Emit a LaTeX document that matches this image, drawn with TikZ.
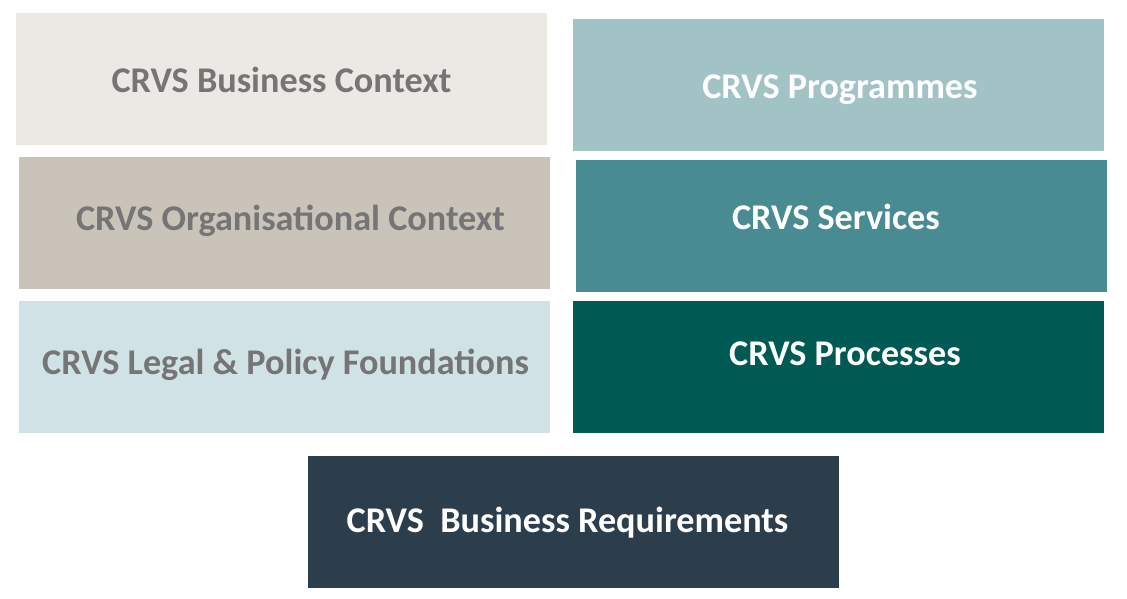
\documentclass[tikz,border=0pt]{standalone}
\usepackage{fontspec}
\setmainfont{Carlito}
\usepackage{tikz}

\definecolor{ctxfill}{HTML}{ECE9E4}
\definecolor{orgfill}{HTML}{CAC3B9}
\definecolor{legfill}{HTML}{D0E2E5}
\definecolor{progfill}{HTML}{A1C3C5}
\definecolor{servfill}{HTML}{488B93}
\definecolor{procfill}{HTML}{005A54}
\definecolor{reqfill}{HTML}{2C3D4C}
\definecolor{greytext}{HTML}{757575}

\begin{document}
\begin{tikzpicture}[x=1bp, y=-1bp,
    block/.style={rectangle, minimum width=531bp, minimum height=132bp, inner sep=0pt, outer sep=0pt},
    lbl/.style={anchor=base, inner sep=0pt, font=\fontsize{36.2bp}{40bp}\selectfont\bfseries},
    lightlbl/.style={lbl, text=greytext},
    darklbl/.style={lbl, text=white}]

    \useasboundingbox (0,0) rectangle (1127,599);

    % left column
    \node[block, fill=ctxfill] (ctx)  at (281.5,79)  {};
    \node[block, fill=orgfill] (org)  at (284.5,223) {};
    \node[block, fill=legfill] (leg)  at (284.5,367) {};

    % right column
    \node[block, fill=progfill] (prog) at (838.5,85)  {};
    \node[block, fill=servfill] (serv) at (841.5,226) {};
    \node[block, fill=procfill] (proc) at (838.5,367) {};

    % bottom
    \node[block, fill=reqfill] (req) at (573.5,522) {};

    \node[lightlbl] (ctxlbl)  at (281.5,93)  {CRVS Business Context};
    \node[lightlbl] (orglbl)  at (290.5,231) {CRVS Organisational Context};
    \node[lightlbl] (leglbl)  at (285.5,374) {CRVS Legal \& Policy Foundations};
    \node[darklbl]  (proglbl) at (840,99)    {CRVS Programmes};
    \node[darklbl]  (servlbl) at (836,230)   {CRVS Services};
    \node[darklbl]  (proclbl) at (845,365)   {CRVS Processes};
    \node[darklbl]  (reqlbl)  at (567.5,532) {CRVS\ \ Business Requirements};
\end{tikzpicture}
\end{document}
